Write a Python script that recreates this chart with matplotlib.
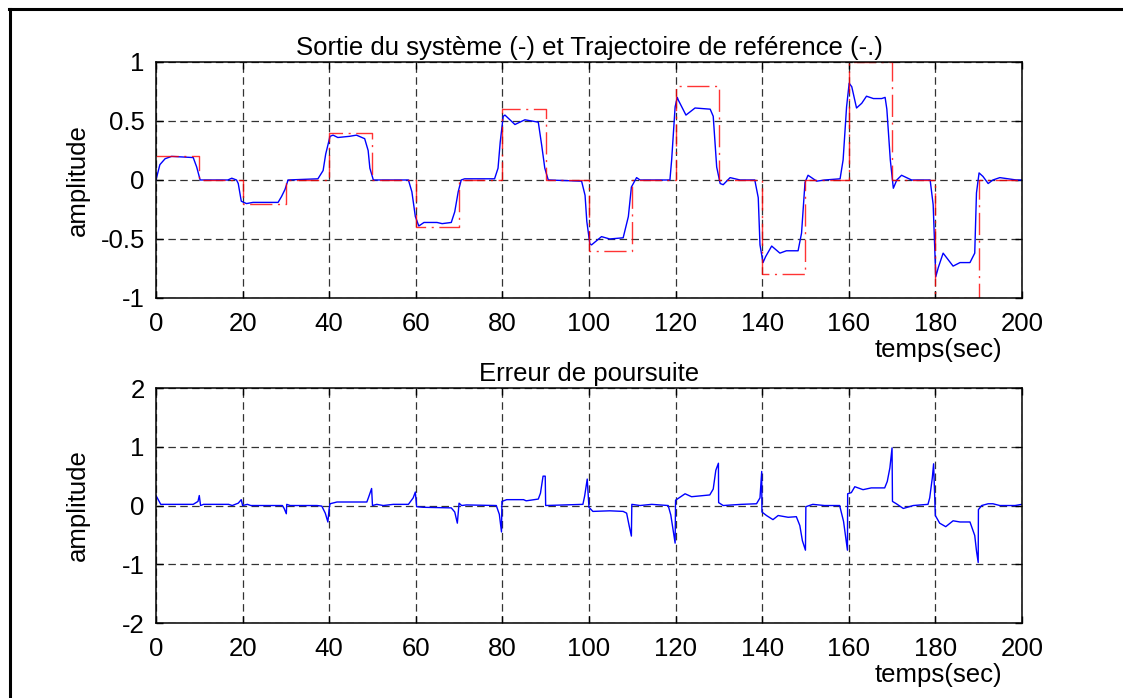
import numpy as np
import matplotlib.pyplot as plt
from matplotlib.lines import Line2D

plt.rcParams['font.family'] = ['Liberation Sans', 'DejaVu Sans']

# consigne : un palier toutes les 10 s
t_ref = [0, 10, 20, 30, 40, 50, 60, 70, 80, 90, 100, 110, 120, 130, 140, 150, 160, 170, 180, 190, 200]
ref = [0.2, 0, -0.2, 0, 0.4, 0, -0.4, 0, 0.6, 0, -0.6, 0, 0.8, 0, -0.8, 0, 1, 0, -1, 0, 0]

# sortie du système
t_out = [0, 0.9, 2.1, 3.6, 8.6, 9.4, 10.2, 16.6, 17.5, 18.6, 19.0, 19.7, 20.9, 22.4, 28.2, 29.0, 29.8, 30.5,
         37.4, 38.6, 39.2, 40.2, 40.9, 42.0, 44.7, 46.3, 48.2, 49.0, 49.4, 50.2, 58.3, 59.1, 59.9, 60.7,
         61.9, 64.9, 66.1, 68.2, 69.0, 69.8, 70.5, 71.3, 78.2, 79.0, 79.5, 80.2, 80.6, 82.9, 85.2, 88.3,
         89.1, 89.8, 90.6, 98.3, 99.1, 99.5, 100.2, 100.6, 102.9, 104.8, 107.9, 109.1, 109.8, 111.0, 111.8,
         118.7, 119.1, 119.9, 120.4, 120.6, 122.4, 124.5, 128.0, 128.7, 129.5, 130.3, 131.0, 132.6, 134.9,
         138.3, 139.1, 139.5, 140.2, 140.8, 142.2, 144.1, 145.6, 148.3, 149.1, 149.9, 150.6, 152.6, 154.5,
         158.0, 158.7, 159.5, 160.1, 160.7, 161.8, 163.0, 164.1, 165.7, 167.6, 168.4, 168.8, 169.6, 170.3,
         171.1, 172.2, 174.5, 178.8, 179.5, 180.1, 180.7, 181.8, 184.1, 185.7, 188.0, 189.1, 189.5, 190.1,
         191.0, 192.2, 193.3, 194.9, 198.7, 200]
y_out = [0, 0.13, 0.18, 0.2, 0.19, 0.11, 0.0, 0.0, 0.015, 0.0, -0.03, -0.18, -0.2, -0.19, -0.19, -0.14, -0.08, 0.0,
         0.01, 0.08, 0.22, 0.37, 0.38, 0.36, 0.37, 0.38, 0.35, 0.25, 0.10, 0.0, 0.0, -0.10, -0.31, -0.39,
         -0.36, -0.36, -0.37, -0.36, -0.27, -0.10, 0.0, 0.01, 0.01, 0.10, 0.32, 0.54, 0.55, 0.47, 0.51, 0.49,
         0.29, 0.10, 0.0, -0.01, -0.13, -0.35, -0.54, -0.55, -0.48, -0.50, -0.49, -0.31, -0.06, 0.02, 0.0,
         0.0, 0.17, 0.62, 0.70, 0.68, 0.55, 0.61, 0.60, 0.54, 0.11, -0.03, -0.04, 0.02, 0.0,
         0.0, -0.15, -0.55, -0.70, -0.65, -0.56, -0.62, -0.60, -0.60, -0.45, -0.02, 0.04, -0.01, 0.0,
         0.01, 0.17, 0.62, 0.82, 0.79, 0.61, 0.65, 0.71, 0.69, 0.69, 0.70, 0.60, 0.17, -0.07,
         0.0, 0.04, 0.0, 0.0, -0.21, -0.82, -0.74, -0.62, -0.73, -0.70, -0.70, -0.62, -0.11, 0.06,
         0.03, -0.03, 0.0, 0.02, 0.0, 0.0]

# erreur de poursuite
t_err = [0, 1.1, 8.6, 9.7, 10.0, 10.3, 11.0, 16.8, 17.6, 19.0, 19.7, 20.0, 21.1, 21.9, 29.2, 29.6, 30.1, 30.2,
         31.0, 37.2, 38.3, 39.1, 39.7, 40.0, 40.2, 41.8, 48.7, 49.1, 49.8, 50.0, 51.0, 52.5, 54.8, 58.3,
         59.4, 59.9, 60.2, 61.7, 68.2, 69.0, 69.6, 70.0, 70.6, 71.7, 78.6, 79.3, 79.8, 79.9, 81.0, 84.9,
         85.5, 88.3, 88.8, 89.4, 89.9, 90.0, 94.4, 98.6, 99.0, 99.6, 100.0, 100.9, 104.8, 107.9, 108.7,
         109.3, 109.8, 109.9, 111.8, 114.5, 118.3, 118.9, 119.9, 120.0, 120.6, 122.2, 123.7, 127.9, 128.7,
         129.3, 129.9, 129.95, 131.0, 135.2, 138.7, 139.5, 139.9, 139.95, 141.0, 142.5, 143.7, 146.0, 147.9,
         148.7, 149.3, 150.0, 150.1, 151.7, 154.4, 157.9, 158.8, 159.7, 159.75, 160.6, 161.4, 163.3, 165.2,
         168.3, 168.9, 169.5, 170.0, 170.1, 171.0, 172.6, 174.9, 178.3, 178.7, 179.3, 179.6, 180.0, 181.0,
         182.4, 184.1, 185.7, 188.0, 189.1, 189.5, 189.9, 189.95, 190.7, 192.2, 193.3, 194.9, 198.4, 200]
e_err = [0.17, 0.02, 0.02, 0.07, 0.17, 0.0, 0.02, 0.02, 0.0, 0.04, 0.10, 0.0, 0.02, 0.0, 0.0, -0.05, -0.14, 0.02,
         0.0, 0.0, -0.01, -0.13, -0.28, -0.05, 0.03, 0.06, 0.06, 0.14, 0.29, 0.0, 0.02, 0.0, 0.02, 0.02,
         0.13, 0.23, -0.02, -0.03, -0.04, -0.11, -0.30, 0.04, 0.0, 0.01, 0.0, -0.15, -0.45, 0.07, 0.10, 0.10,
         0.08, 0.11, 0.21, 0.50, 0.50, 0.0, 0.01, 0.02, 0.16, 0.45, -0.03, -0.10, -0.09, -0.10, -0.13,
         -0.35, -0.52, 0.02, 0.0, 0.02, 0.0, -0.16, -0.64, 0.09, 0.12, 0.20, 0.15, 0.18, 0.28,
         0.60, 0.72, 0.05, 0.0, 0.02, 0.03, 0.13, 0.58, -0.11, -0.17, -0.24, -0.17, -0.20, -0.19,
         -0.34, -0.60, -0.76, -0.02, 0.02, 0.0, 0.0, -0.27, -0.76, 0.20, 0.22, 0.32, 0.27, 0.30,
         0.30, 0.41, 0.64, 0.98, 0.07, 0.03, -0.05, 0.0, 0.02, 0.13, 0.47, 0.71, -0.17, -0.30,
         -0.36, -0.26, -0.28, -0.28, -0.51, -0.77, -0.97, -0.07, 0.0, 0.03, 0.03, 0.0, 0.0, 0.02]

x_ticks = [0, 20, 40, 60, 80, 100, 120, 140, 160, 180, 200]
y_ticks_top = [-1, -0.5, 0, 0.5, 1]
y_labels_top = ['-1', '-0.5', '0', '0.5', '1']
y_ticks_bot = [-2, -1, 0, 1, 2]
y_labels_bot = ['-2', '-1', '0', '1', '2']

fs = 18.5
fig = plt.figure(figsize=(11.23, 6.98), dpi=100)
ax1 = fig.add_axes([0.1389, 0.5731, 0.7711, 0.3381])
ax2 = fig.add_axes([0.1389, 0.1074, 0.7711, 0.3367])

# cadre de la figure (haut et gauche)
fig.add_artist(Line2D([9 / 1123, 1], [1 - 9 / 698, 1 - 9 / 698], color='black', lw=2.2))
fig.add_artist(Line2D([10 / 1123, 10 / 1123], [0, 1 - 9 / 698], color='black', lw=2.2))


def style(ax, yt, yl, title):
    ax.set_xlim(0, 200)
    ax.set_ylim(yt[0], yt[-1])
    ax.set_xticks(x_ticks)
    ax.set_xticklabels([str(v) for v in x_ticks])
    ax.set_yticks(yt)
    ax.set_yticklabels(yl)
    ax.tick_params(direction='in', length=5, width=1, top=True, right=True, labelsize=fs)
    ax.tick_params(axis='x', pad=10)
    ax.tick_params(axis='y', pad=8)
    ax.grid(True, color='#333333', linestyle=(0, (6, 3.5)), linewidth=0.9)
    for s in ax.spines.values():
        s.set_linewidth(1.1)
    ax.set_title(title, fontsize=fs, pad=5)
    ax.set_ylabel('amplitude', fontsize=fs)
    ax.yaxis.set_label_coords(-0.076, 0.5)
    ax.set_xlabel('temps(sec)', fontsize=fs)
    ax.xaxis.set_label_coords(0.904, -0.17)


ax1.plot(t_out, y_out, '-', color='blue', lw=1.0)
ax1.step(t_ref, ref, where='post', color='red', alpha=0.8, lw=1.0, linestyle=(0, (16, 4, 1.5, 4)))
style(ax1, y_ticks_top, y_labels_top, 'Sortie du système (-) et Trajectoire de reférence (-.)')

ax2.plot(t_err, e_err, '-', color='blue', lw=1.0)
style(ax2, y_ticks_bot, y_labels_bot, 'Erreur de poursuite')

plt.savefig('out.png', dpi=100)
